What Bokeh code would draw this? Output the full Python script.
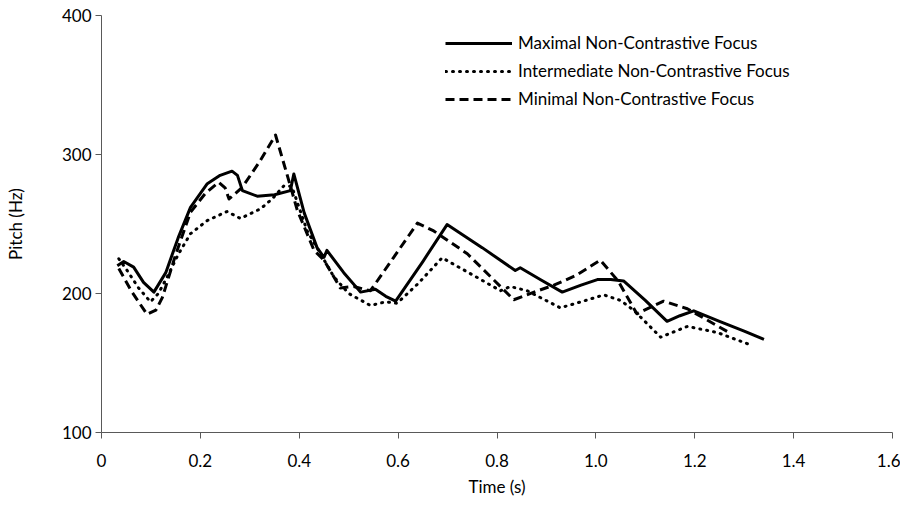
from bokeh.plotting import figure
from bokeh.models import FixedTicker, Legend, LegendItem, Range1d
from bokeh.embed import file_html
from bokeh.resources import INLINE

# ---- data ----
max_t = [0.032, 0.045, 0.065, 0.085, 0.106, 0.13, 0.155, 0.18, 0.214, 0.24, 0.264, 0.275,
         0.285, 0.315, 0.35, 0.382, 0.389, 0.41, 0.436, 0.45, 0.456, 0.49, 0.524, 0.554,
         0.575, 0.595, 0.65, 0.699, 0.77, 0.837, 0.847, 0.89, 0.932, 0.97, 1.003, 1.03,
         1.056, 1.1, 1.144, 1.17, 1.198, 1.25, 1.3, 1.34]
max_hz = [220, 223, 219, 208, 201, 215, 240, 262, 279, 285, 288, 285,
          274, 270, 271, 274, 286, 258, 233, 226, 231, 215, 201, 203,
          198, 194.5, 223, 249.6, 233, 216.5, 218.5, 209.5, 201, 206, 210, 210,
          209, 195, 180, 184, 187.5, 180, 173, 167]

int_t = [0.035, 0.052, 0.075, 0.099, 0.115, 0.133, 0.155, 0.18, 0.214, 0.254, 0.281, 0.322,
         0.345, 0.369, 0.385, 0.416, 0.443, 0.47, 0.5, 0.544, 0.575, 0.598, 0.64, 0.689,
         0.75, 0.807, 0.827, 0.861, 0.928, 0.97, 1.016, 1.05, 1.077, 1.131, 1.185, 1.245, 1.313]
int_hz = [225, 216.5, 204, 194, 200, 212, 228, 243, 252.5, 259, 254, 261,
          268, 277.5, 277, 245, 228.6, 212, 200, 191.4, 194, 193, 207, 225.7,
          213.5, 202, 205, 202, 189.7, 194, 199, 195, 187.8, 168.6, 176.3, 172, 163]

min_t = [0.035, 0.06, 0.092, 0.11, 0.123, 0.15, 0.18, 0.21, 0.237, 0.25, 0.258, 0.285,
         0.32, 0.352, 0.375, 0.396, 0.43, 0.45, 0.483, 0.51, 0.544, 0.59, 0.639, 0.672,
         0.74, 0.807, 0.834, 0.875, 0.915, 0.96, 1.009, 1.045, 1.083, 1.11, 1.137, 1.185, 1.269]
min_hz = [218, 202, 185, 188, 197, 228, 258.5, 272, 280, 276, 268, 276.5,
          295, 314, 286, 260, 231, 224, 204, 205, 202, 225.5, 250.6, 245,
          228.6, 205, 195.5, 201, 206, 213, 224, 209, 185.4, 190, 194.5, 189, 172]

series_names = ["Maximal Non-Contrastive Focus",
                "Intermediate Non-Contrastive Focus",
                "Minimal Non-Contrastive Focus"]

x_ticks = [0, 0.2, 0.4, 0.6, 0.8, 1.0, 1.2, 1.4, 1.6]
x_tick_labels = ["0", "0.2", "0.4", "0.6", "0.8", "1.0", "1.2", "1.4", "1.6"]
y_ticks = [100, 200, 300, 400]
x_title = "Time (s)"
y_title = "Pitch (Hz)"

FONT = "Lato"
AXIS_COLOR = "#595959"

p = figure(width=900, height=500, output_backend="svg", toolbar_location=None,
           x_range=Range1d(0, 1.6), y_range=Range1d(100, 400),
           min_border_left=101, min_border_right=8, min_border_top=15, min_border_bottom=68)
p.outline_line_color = None
p.xgrid.visible = False
p.ygrid.visible = False

r1 = p.line(max_t, max_hz, line_color="black", line_width=3, line_join="round")
r2 = p.line(int_t, int_hz, line_color="black", line_width=3, line_dash="1 6",
            line_cap="round", line_join="round")
r3 = p.line(min_t, min_hz, line_color="black", line_width=3, line_dash="9 5", line_join="round")

for ax in (p.xaxis[0], p.yaxis[0]):
    ax.axis_line_color = AXIS_COLOR
    ax.major_tick_line_color = AXIS_COLOR
    ax.minor_tick_line_color = None
    ax.major_tick_in = 0
    ax.major_tick_out = 6
    ax.major_label_text_font = FONT
    ax.major_label_text_font_size = "17px"
    ax.major_label_text_color = "black"
    ax.axis_label_text_font = FONT
    ax.axis_label_text_font_size = "17px"
    ax.axis_label_text_font_style = "normal"
    ax.axis_label_text_color = "black"

p.xaxis.ticker = FixedTicker(ticks=x_ticks)
p.xaxis.major_label_overrides = {t: l for t, l in zip(x_ticks, x_tick_labels)}
p.xaxis.major_label_standoff = 15
p.xaxis.axis_label = x_title
p.xaxis.axis_label_standoff = 6

p.yaxis.ticker = FixedTicker(ticks=y_ticks)
p.yaxis.major_label_standoff = 4
p.yaxis.axis_label = y_title
p.yaxis.axis_label_standoff = 33

legend = Legend(items=[LegendItem(label=series_names[0], renderers=[r1]),
                       LegendItem(label=series_names[1], renderers=[r2]),
                       LegendItem(label=series_names[2], renderers=[r3])],
                location=(344, 323))
legend.padding = 0
legend.margin = 0
legend.border_line_color = None
legend.background_fill_alpha = 0
legend.glyph_width = 67
legend.glyph_height = 20
legend.label_height = 20
legend.spacing = 7
legend.label_standoff = 6
legend.label_text_font = FONT
legend.label_text_font_size = "17px"
legend.label_text_color = "black"
p.add_layout(legend)

open("out.html", "w").write(file_html(p, INLINE))
